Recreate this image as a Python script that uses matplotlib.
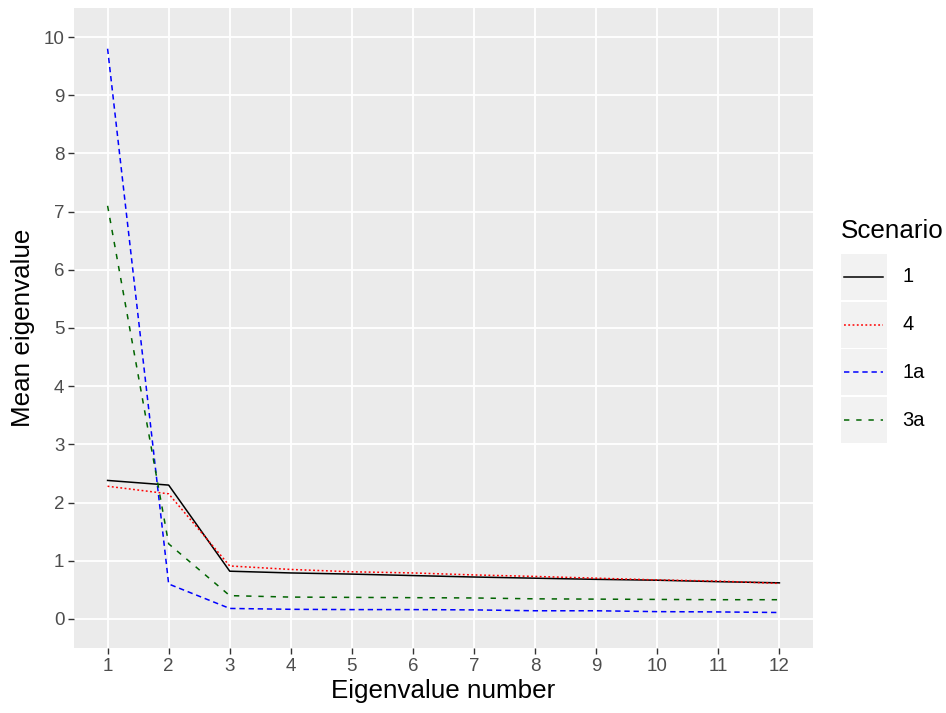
import matplotlib
matplotlib.use("Agg")
import matplotlib.pyplot as plt
from matplotlib.patches import Rectangle
from matplotlib.lines import Line2D

plt.rcParams['font.family'] = ['Liberation Sans', 'DejaVu Sans']

eig_num = list(range(1, 13))
s1 = [2.38, 2.30, 0.82, 0.79, 0.77, 0.745, 0.72, 0.70, 0.68, 0.665, 0.64, 0.62]
s4 = [2.28, 2.15, 0.91, 0.85, 0.81, 0.79, 0.756, 0.73, 0.70, 0.67, 0.65, 0.61]
s1a = [9.8, 0.60, 0.18, 0.165, 0.16, 0.16, 0.155, 0.14, 0.14, 0.125, 0.12, 0.11]
s3a = [7.1, 1.29, 0.40, 0.375, 0.37, 0.365, 0.36, 0.345, 0.34, 0.335, 0.33, 0.33]
labels = ['1', '4', '1a', '3a']
colors = ['black', 'red', 'blue', '#006400']
styles = ['-', (0, (1.2, 1.6)), (0, (3.5, 2.5)), (0, (3.5, 4.5))]
series = [s1, s4, s1a, s3a]

fig = plt.figure(figsize=(9.46, 7.13), dpi=100)
W, H = 946, 713
ax = fig.add_axes([74/W, 1-648/H, (813-74)/W, (648-8)/H])
ax.set_facecolor('#EBEBEB')
for s in ax.spines.values():
    s.set_visible(False)

for y, lab, c, ls in zip(series, labels, colors, styles):
    ax.plot(eig_num, y, color=c, linestyle=ls, linewidth=1.1, label=lab, zorder=3)

ax.set_xlim(0.45, 12.55)
ax.set_ylim(-0.5, 10.5)
ax.set_xticks(eig_num)
ax.set_yticks(range(0, 11))
ax.grid(True, color='white', linewidth=1.3, zorder=0)
ax.set_axisbelow(True)
ax.tick_params(axis='both', colors='#333333', labelcolor='#4D4D4D', labelsize=13.5,
               length=4, width=1, direction='out', pad=3)
ax.set_xlabel('Eigenvalue number', fontsize=18.7, color='black', labelpad=3)
ax.set_ylabel('Mean eigenvalue', fontsize=18.7, color='black', labelpad=6)

# legend
fig.text(841/W, 1-231/H, 'Scenario', fontsize=18.7, va='center', ha='left')
key_top = 254
key_h = 46
pitch = 47.7
for i, (lab, c, ls) in enumerate(zip(labels, colors, styles)):
    y0 = key_top + i*pitch
    fig.patches.append(Rectangle((841/W, 1-(y0+key_h)/H), 45.5/W, key_h/H,
                                 transform=fig.transFigure, facecolor='#F2F2F2',
                                 edgecolor='none'))
    yc = 1-(y0+key_h/2)/H
    fig.lines.append(Line2D([844/W, 883/W], [yc, yc], transform=fig.transFigure,
                            color=c, linestyle=ls, linewidth=1.1))
    fig.text(902/W, yc, lab, fontsize=14.5, va='center', ha='left')

fig.savefig('out.png', dpi=100)
